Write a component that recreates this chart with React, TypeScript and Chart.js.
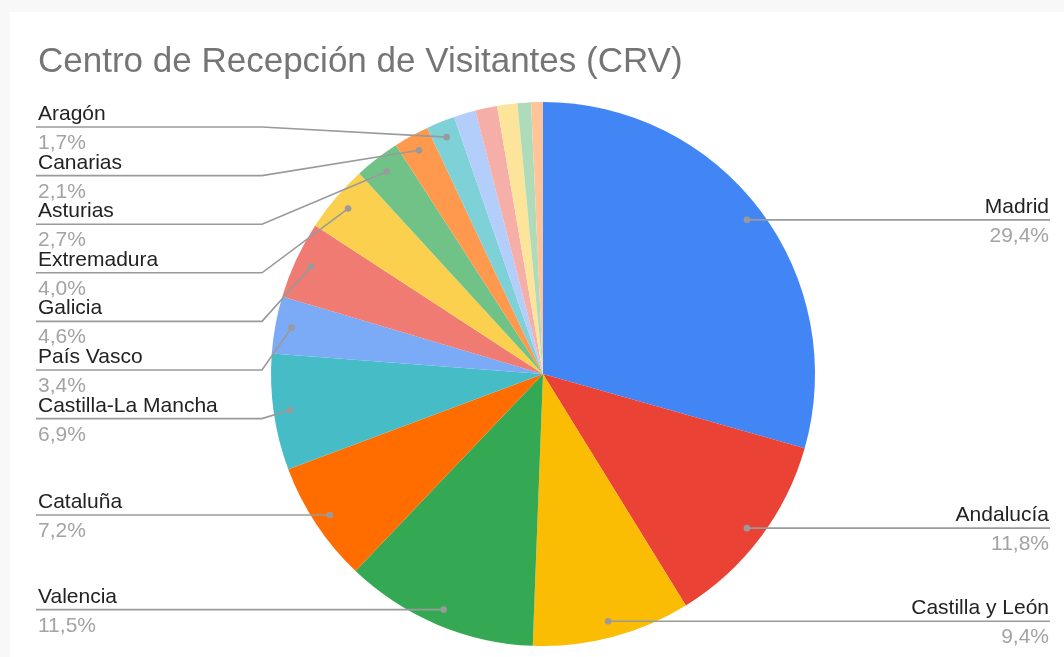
import React, { useEffect, useRef } from "react";
import { Chart, registerables } from "chart.js";

Chart.register(...registerables);

const TITLE = "Centro de Recepción de Visitantes (CRV)";

const regions = [
  "Madrid",
  "Andalucía",
  "Castilla y León",
  "Valencia",
  "Cataluña",
  "Castilla-La Mancha",
  "País Vasco",
  "Galicia",
  "Extremadura",
  "Asturias",
  "Canarias",
  "Aragón",
  "Murcia",
  "Cantabria",
  "Navarra",
  "Baleares",
  "La Rioja",
];

const shares = [29.4, 11.8, 9.4, 11.5, 7.2, 6.9, 3.4, 4.6, 4.0, 2.7, 2.1, 1.7, 1.3, 1.3, 1.2, 0.8, 0.7];

const sliceColors = [
  "#4285f4",
  "#ea4335",
  "#fbbc04",
  "#34a853",
  "#ff6d01",
  "#46bdc6",
  "#7baaf7",
  "#f07b72",
  "#fcd04f",
  "#71c287",
  "#ff994d",
  "#7ed1d7",
  "#b3cefb",
  "#f6aea9",
  "#fde49b",
  "#aedcba",
  "#ffc599",
];

const MIN_LABEL_SHARE = 1.5;
const FONT = "Arial, 'Liberation Sans', sans-serif";

type Item = { idx: number; dx: number; dy: number; desired: number; y: number };

function placeLabels(items: Item[], minY: number, maxY: number, gap: number) {
  items.sort((a, b) => a.desired - b.desired);
  let clusters: { items: Item[]; top: number }[] = items.map((it) => ({ items: [it], top: 0 }));
  const fit = (c: { items: Item[]; top: number }) => {
    const n = c.items.length;
    const mean = c.items.reduce((s, it) => s + it.desired, 0) / n;
    let top = mean - ((n - 1) * gap) / 2;
    top = Math.min(top, maxY - (n - 1) * gap);
    top = Math.max(top, minY);
    c.top = top;
  };
  clusters.forEach(fit);
  let changed = true;
  while (changed) {
    changed = false;
    for (let i = 0; i < clusters.length - 1; i++) {
      const a = clusters[i];
      const b = clusters[i + 1];
      const aBottom = a.top + (a.items.length - 1) * gap;
      if (aBottom + gap > b.top) {
        const merged = { items: a.items.concat(b.items), top: 0 };
        fit(merged);
        clusters.splice(i, 2, merged);
        changed = true;
        break;
      }
    }
  }
  clusters.forEach((c) => c.items.forEach((it, k) => (it.y = c.top + k * gap)));
}

const sheetLabels = {
  id: "sheetLabels",
  afterDraw(chart: any) {
    const ctx = chart.ctx as CanvasRenderingContext2D;
    const area = chart.chartArea;
    // title
    ctx.save();
    ctx.font = `35px ${FONT}`;
    ctx.fillStyle = "#757575";
    ctx.textAlign = "left";
    ctx.textBaseline = "alphabetic";
    ctx.fillText(TITLE, 38, 72);
    ctx.restore();

    const meta = chart.getDatasetMeta(0);
    const data = chart.data.datasets[0].data as number[];
    const total = data.reduce((s, v) => s + v, 0);
    const left: Item[] = [];
    const right: Item[] = [];
    let cx = 0,
      cy = 0,
      R = 0;
    meta.data.forEach((arc: any, i: number) => {
      const p = arc.getProps(["x", "y", "startAngle", "endAngle", "outerRadius"], true);
      cx = p.x;
      cy = p.y;
      R = p.outerRadius;
      const pct = (data[i] / total) * 100;
      if (pct < MIN_LABEL_SHARE) return;
      const mid = (p.startAngle + p.endAngle) / 2;
      const dx = p.x + Math.cos(mid) * p.outerRadius * 0.94;
      const dy = p.y + Math.sin(mid) * p.outerRadius * 0.94;
      const item = { idx: i, dx, dy, desired: dy, y: dy };
      if (Math.cos(mid) >= 0) right.push(item);
      else left.push(item);
    });
    const gap = 48.6;
    const minY = area.top + 25;
    const maxY = area.bottom - 22;
    placeLabels(left, minY, maxY, gap);
    placeLabels(right, minY, maxY, gap);

    const leftX = 36;
    const rightX = 1050;
    const drawSide = (items: Item[], isLeft: boolean) => {
      items.forEach((it) => {
        const bendX = isLeft ? cx - R - 9 : cx + R + 9;
        const outX = isLeft ? leftX : rightX;
        ctx.save();
        ctx.strokeStyle = "#9a9a9a";
        ctx.lineWidth = 1.6;
        ctx.beginPath();
        ctx.moveTo(it.dx, it.dy);
        if (Math.abs(it.y - it.dy) > 1 && (isLeft ? it.dx > bendX : it.dx < bendX)) {
          ctx.lineTo(bendX, it.y);
        }
        ctx.lineTo(outX, it.y);
        ctx.stroke();
        ctx.fillStyle = "#9a9a9a";
        ctx.beginPath();
        ctx.arc(it.dx, it.dy, 3.3, 0, Math.PI * 2);
        ctx.fill();

        const pctText = ((data[it.idx] / total) * 100).toFixed(1).replace(".", ",") + "%";
        ctx.font = `21px ${FONT}`;
        ctx.textBaseline = "alphabetic";
        ctx.textAlign = isLeft ? "left" : "right";
        const tx = isLeft ? 38 : 1049;
        ctx.fillStyle = "#222222";
        ctx.fillText(chart.data.labels[it.idx], tx, it.y - 7);
        ctx.fillStyle = "#a3a3a3";
        ctx.fillText(pctText, tx, it.y + 22);
        ctx.restore();
      });
    };
    drawSide(left, true);
    drawSide(right, false);
  },
};

export default function App() {
  const canvasRef = useRef<HTMLCanvasElement | null>(null);

  useEffect(() => {
    const canvas = canvasRef.current;
    if (!canvas) return;
    const chart = new Chart(canvas, {
      type: "pie",
      data: {
        labels: regions,
        datasets: [
          {
            data: shares,
            backgroundColor: sliceColors,
            borderWidth: 0,
          },
        ],
      },
      options: {
        responsive: false,
        maintainAspectRatio: false,
        animation: false,
        devicePixelRatio: 1,
        layout: { padding: { left: 271, right: 249, top: 102, bottom: 11 } },
        plugins: {
          legend: { display: false },
          tooltip: { enabled: false },
          title: { display: false },
        },
      },
      plugins: [sheetLabels],
    });
    return () => chart.destroy();
  }, []);

  return (
    <div
      style={{
        position: "fixed",
        left: 0,
        top: 0,
        width: 1064,
        height: 657,
        background: "#f8f8f8",
        overflow: "hidden",
      }}
    >
      <div
        style={{
          position: "absolute",
          left: 10,
          top: 12,
          right: 0,
          bottom: 0,
          background: "#ffffff",
        }}
      />
      <canvas
        ref={canvasRef}
        width={1064}
        height={657}
        style={{ position: "absolute", left: 0, top: 0, display: "block" }}
      />
    </div>
  );
}
